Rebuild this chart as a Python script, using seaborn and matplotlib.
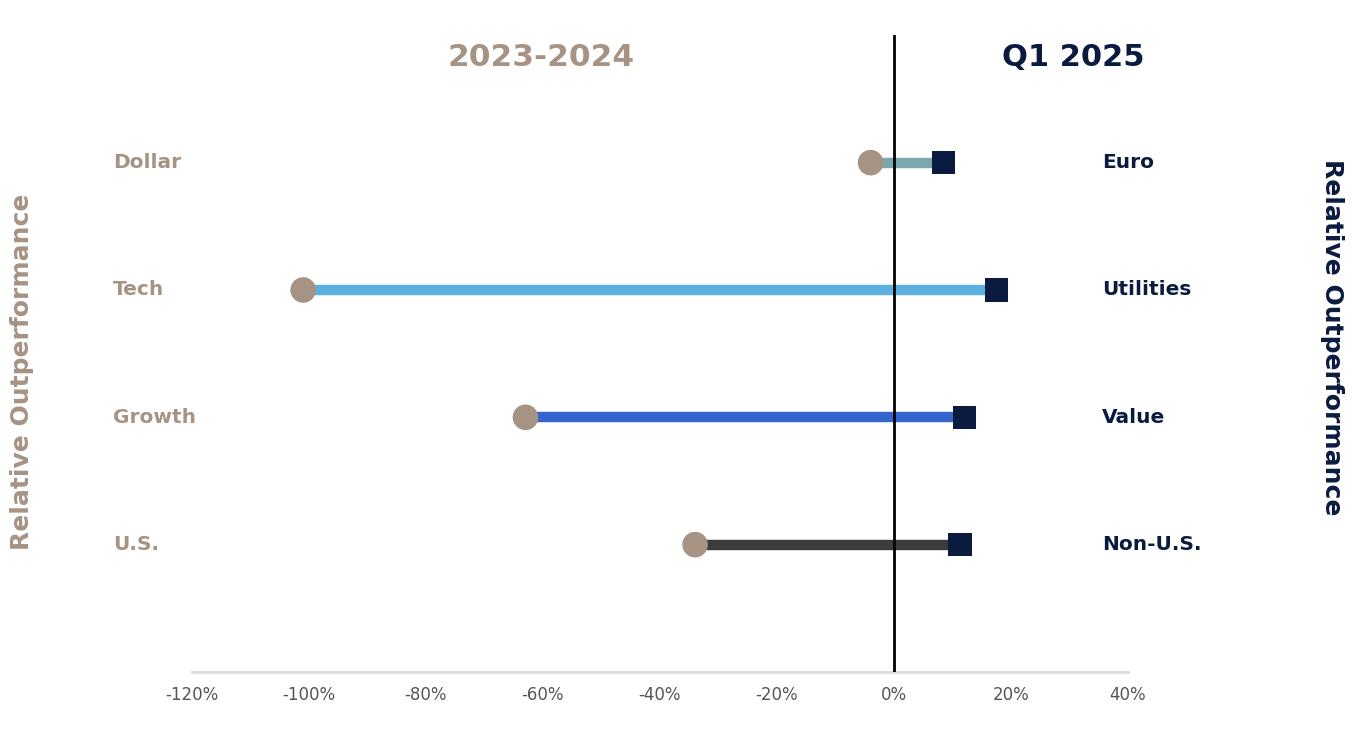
import numpy as np
import pandas as pd
import matplotlib
matplotlib.use("Agg")
import matplotlib.pyplot as plt
import matplotlib.transforms as mtransforms
import seaborn as sns

# data
left_labels = ["Dollar", "Tech", "Growth", "U.S."]
right_labels = ["Euro", "Utilities", "Value", "Non-U.S."]
start_2023_2024 = [-4, -101, -63, -34]
end_q1_2025 = [8.5, 17.5, 12, 11.3]
line_colors = ["#7BA7AE", "#5BB0E0", "#3464CC", "#3C3C3C"]
x_ticks = [-120, -100, -80, -60, -40, -20, 0, 20, 40]

TAUPE = "#A69383"
NAVY = "#0B1B40"

sns.set_theme(style="white")
plt.rcParams["font.family"] = ["DejaVu Sans"]

df = pd.DataFrame({"row": np.arange(len(left_labels)),
                   "start": start_2023_2024,
                   "end": end_q1_2025})

fig = plt.figure(figsize=(13.57, 7.36), dpi=100)
ax = fig.add_axes([0.1415, 0.087, 0.6897, 0.865])

# connecting bars
ax.hlines(df["row"], df["start"], df["end"], colors=line_colors, lw=7.5, zorder=2)
# zero line
ax.axvline(0, color="black", lw=2, zorder=3)

sns.scatterplot(data=df, x="start", y="row", ax=ax, marker="o", s=340,
                color=TAUPE, edgecolor="none", zorder=4)
sns.scatterplot(data=df, x="end", y="row", ax=ax, marker="s", s=280,
                color=NAVY, edgecolor="none", zorder=4)

ax.set_xlim(-120, 40)
ax.set_ylim(4, -1)
ax.set_xticks(x_ticks)
ax.set_xticklabels([f"{t}%" for t in x_ticks], color="#555555", fontsize=12)
ax.tick_params(axis="x", length=0, pad=10)
ax.set_yticks([])
ax.set_xlabel("")
ax.set_ylabel("")
for s in ["top", "left", "right"]:
    ax.spines[s].set_visible(False)
ax.spines["bottom"].set_color("#DADADA")
ax.spines["bottom"].set_linewidth(2)

# row labels
trans = mtransforms.blended_transform_factory(fig.transFigure, ax.transData)
for i, (l, r) in enumerate(zip(left_labels, right_labels)):
    ax.text(113 / 1357, i, l, transform=trans, ha="left", va="center",
            fontsize=14.5, fontweight="bold", color=TAUPE)
    ax.text(1102 / 1357, i, r, transform=trans, ha="left", va="center",
            fontsize=14.5, fontweight="bold", color=NAVY)

# headers
fig.text(541 / 1357, 1 - 57 / 736, "2023-2024", ha="center", va="center",
         fontsize=22.5, fontweight="bold", color=TAUPE)
fig.text(1073 / 1357, 1 - 57 / 736, "Q1 2025", ha="center", va="center",
         fontsize=22, fontweight="bold", color=NAVY)

# side titles
fig.text(22 / 1357, 1 - 372 / 736, "Relative Outperformance", rotation=90,
         ha="center", va="center", fontsize=18, fontweight="bold", color=TAUPE)
fig.text(1332 / 1357, 1 - 337 / 736, "Relative Outperformance", rotation=270,
         ha="center", va="center", fontsize=18, fontweight="bold", color=NAVY)

fig.savefig("out.png", dpi=100)
